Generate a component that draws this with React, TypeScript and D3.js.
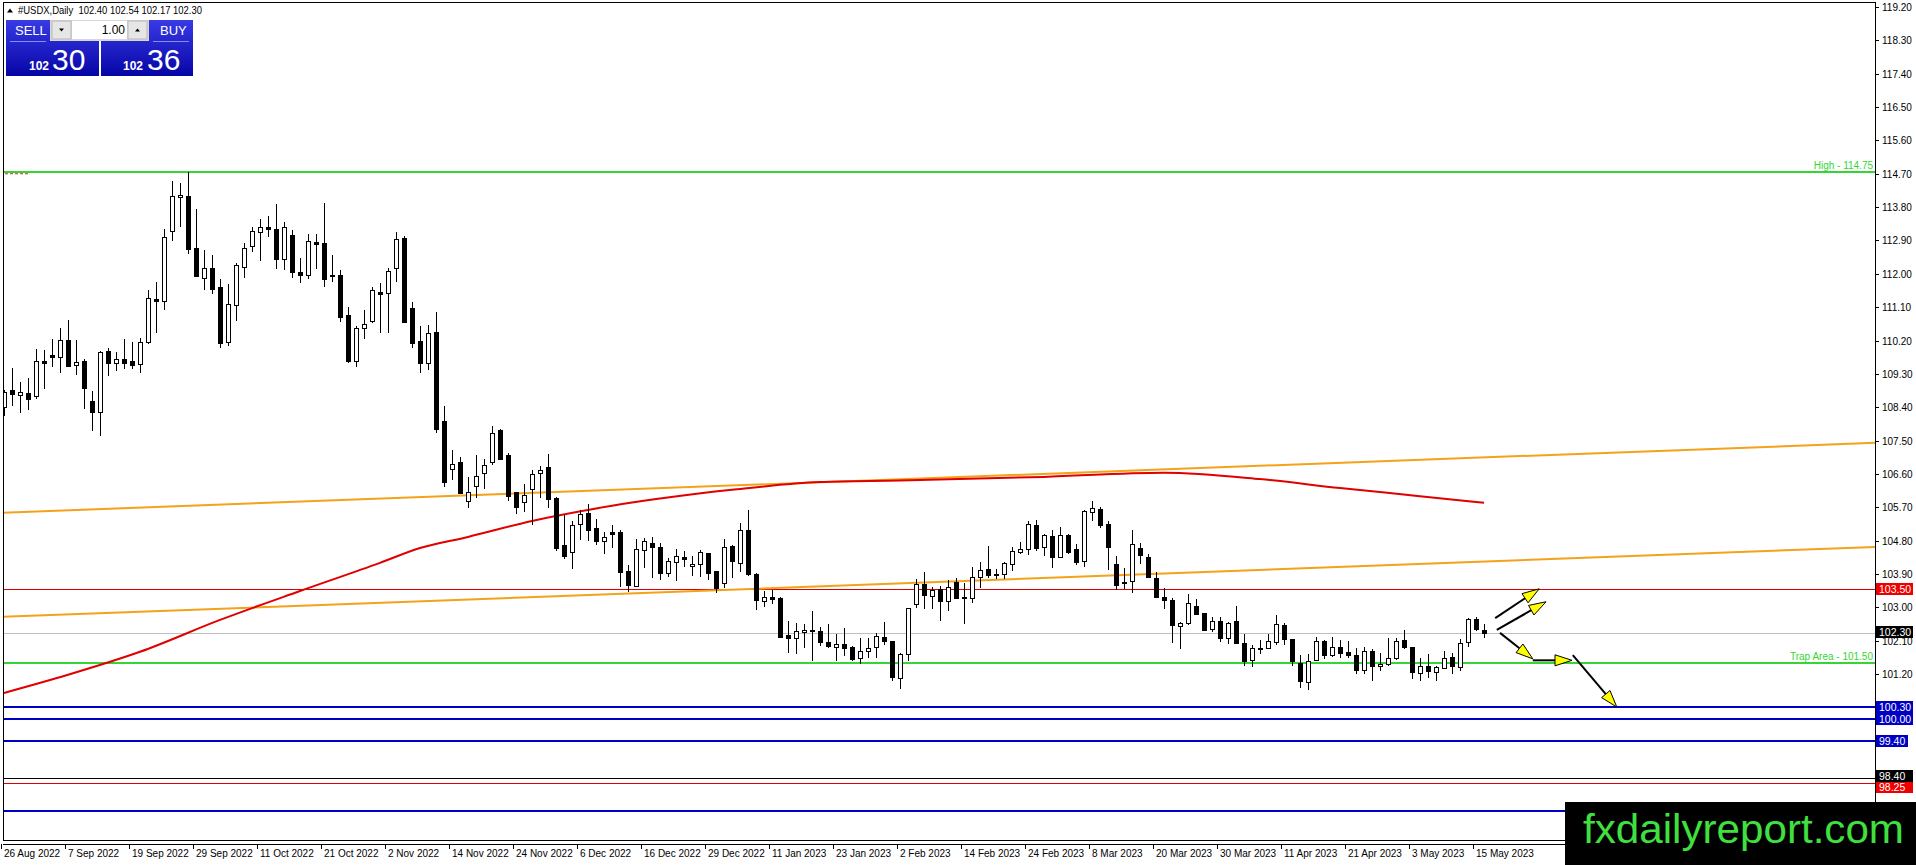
import * as d3 from "d3"

// daily candles, 26 Aug 2022 .. 16 May 2023
const opens = [
  108.40, 108.87, 108.74, 108.78, 108.69, 109.65, 109.81, 109.76, 110.21, 109.53,
  109.65, 108.57, 108.28, 109.92, 109.60, 109.69, 109.65, 109.56, 110.17, 111.32,
  111.26, 113.15, 114.06, 114.10, 112.69, 111.90, 112.16, 111.64, 110.17, 111.15,
  112.19, 112.74, 113.12, 113.26, 113.21, 112.41, 113.05, 112.05, 111.96, 112.86,
  112.83, 111.96, 111.96, 110.89, 109.65, 110.53, 110.74, 111.51, 111.47, 112.15,
  112.97, 111.09, 110.19, 109.58, 110.42, 108.03, 106.74, 106.92, 105.87, 106.27,
  106.63, 106.93, 107.79, 107.11, 106.10, 105.83, 106.20, 106.62, 106.80, 105.94,
  104.68, 104.48, 105.25, 105.54, 105.13, 104.78, 105.02, 105.02, 103.98, 103.58,
  104.55, 104.73, 104.64, 103.94, 104.21, 104.36, 104.12, 104.16, 104.46, 103.98,
  103.65, 104.66, 104.19, 105.10, 103.90, 103.17, 103.27, 103.24, 102.26, 102.17,
  102.33, 102.39, 102.36, 102.06, 101.92, 102.00, 101.94, 101.62, 101.81, 101.92,
  102.19, 102.09, 101.10, 101.73, 103.08, 103.63, 103.31, 103.49, 103.17, 103.69,
  103.27, 103.24, 103.81, 104.03, 103.89, 103.89, 104.17, 104.48, 104.57, 105.21,
  104.62, 104.93, 104.35, 104.95, 104.58, 104.26, 105.57, 105.65, 105.24, 104.16,
  103.68, 103.72, 104.59, 104.37, 103.78, 103.29, 103.20, 102.50, 102.57, 103.04,
  102.84, 102.41, 102.63, 102.16, 102.63, 102.03, 101.58, 101.90, 101.90, 102.07,
  102.52, 102.14, 101.51, 100.98, 101.57, 102.08, 101.72, 101.92, 101.79, 101.71,
  101.31, 101.83, 101.41, 101.46, 101.62, 102.11, 101.92, 101.24, 101.41, 101.25,
  101.36, 101.65, 101.40, 102.06, 102.68, 102.40,
]
const highs = [
  108.87, 109.45, 109.09, 109.18, 109.96, 109.94, 110.24, 110.54, 110.75, 110.21,
  109.70, 108.84, 109.91, 109.99, 109.89, 110.24, 110.16, 110.28, 111.56, 111.78,
  113.21, 114.50, 114.46, 114.75, 113.75, 112.64, 112.51, 111.86, 111.72, 112.28,
  112.84, 113.27, 113.47, 113.56, 113.89, 113.40, 113.18, 112.42, 113.07, 113.07,
  113.92, 112.51, 112.10, 111.10, 110.60, 111.02, 111.65, 111.76, 112.15, 113.14,
  113.02, 111.23, 110.59, 110.62, 110.96, 108.43, 107.25, 107.05, 106.51, 107.11,
  107.00, 107.89, 107.80, 107.17, 106.12, 106.33, 106.71, 106.81, 107.14, 105.97,
  105.49, 105.34, 105.63, 105.79, 105.38, 105.04, 105.22, 105.09, 104.14, 104.85,
  104.88, 104.91, 104.73, 104.32, 104.57, 104.53, 104.39, 104.55, 104.47, 103.99,
  104.84, 104.68, 105.27, 105.63, 103.93, 103.45, 103.47, 103.29, 102.64, 102.59,
  102.54, 102.91, 102.46, 102.54, 102.27, 102.43, 101.95, 102.18, 102.18, 102.30,
  102.60, 102.10, 101.76, 102.99, 103.76, 103.95, 103.54, 103.58, 103.74, 103.80,
  103.65, 104.08, 104.22, 104.66, 104.03, 104.23, 104.62, 104.75, 105.32, 105.36,
  104.98, 105.09, 105.18, 104.98, 104.70, 105.63, 105.87, 105.72, 105.33, 104.39,
  104.05, 105.09, 104.73, 104.45, 103.95, 103.51, 103.24, 102.60, 103.36, 103.22,
  102.85, 102.75, 102.75, 102.61, 103.04, 102.28, 101.99, 102.11, 102.28, 102.79,
  102.57, 102.15, 101.72, 101.73, 102.21, 102.11, 102.21, 102.11, 102.10, 101.90,
  101.94, 101.87, 101.78, 102.16, 102.16, 102.38, 101.93, 101.63, 101.75, 101.43,
  101.83, 101.78, 102.14, 102.72, 102.73, 102.54,
]
const lows = [
  108.15, 108.43, 108.25, 108.33, 108.61, 108.90, 109.49, 109.33, 109.49, 109.27,
  108.34, 107.77, 107.62, 109.24, 109.39, 109.44, 109.44, 109.33, 110.10, 110.40,
  111.03, 112.88, 113.27, 112.53, 111.94, 111.55, 111.45, 110.01, 110.06, 110.74,
  111.90, 112.58, 112.35, 113.00, 112.12, 112.10, 111.88, 111.74, 111.87, 112.14,
  111.65, 111.77, 110.71, 109.60, 109.49, 110.25, 110.68, 110.39, 110.41, 111.79,
  110.68, 110.01, 109.33, 109.40, 107.70, 106.26, 106.44, 106.08, 105.69, 105.94,
  106.20, 106.84, 106.98, 105.87, 105.52, 105.56, 105.22, 105.96, 105.67, 104.53,
  104.30, 104.04, 104.82, 104.80, 104.68, 104.43, 104.61, 103.56, 103.42, 103.54,
  104.05, 103.80, 103.74, 103.83, 103.72, 104.10, 103.85, 103.83, 103.74, 103.38,
  103.51, 103.80, 103.96, 103.85, 102.93, 103.00, 103.09, 102.17, 101.76, 101.74,
  101.91, 101.55, 101.97, 101.91, 101.55, 101.69, 101.56, 101.47, 101.64, 101.64,
  101.99, 101.01, 100.79, 101.54, 102.99, 102.96, 102.95, 102.62, 102.89, 103.22,
  102.55, 103.13, 103.51, 103.80, 103.76, 103.77, 103.99, 104.43, 104.40, 104.53,
  104.39, 104.07, 104.32, 104.44, 104.13, 104.10, 105.32, 105.13, 104.01, 103.46,
  103.49, 103.40, 104.17, 103.81, 103.26, 102.96, 102.05, 101.88, 102.52, 102.78,
  102.35, 102.33, 102.06, 102.02, 102.03, 101.43, 101.38, 101.74, 101.87, 101.98,
  101.99, 101.43, 100.83, 100.76, 101.54, 101.61, 101.65, 101.63, 101.62, 101.19,
  101.20, 101.01, 101.27, 101.42, 101.58, 101.87, 101.06, 101.00, 101.09, 101.02,
  101.33, 101.20, 101.27, 101.92, 102.35, 102.17,
]
const closes = [
  108.80, 108.75, 108.80, 108.63, 109.64, 109.58, 109.76, 110.21, 109.52, 109.62,
  108.93, 108.28, 109.88, 109.60, 109.69, 109.60, 109.55, 110.15, 111.34, 111.26,
  112.98, 114.09, 114.13, 112.68, 111.95, 112.16, 111.60, 110.14, 111.18, 112.23,
  112.71, 113.15, 113.25, 113.21, 112.41, 113.25, 112.06, 111.98, 112.88, 112.80,
  111.85, 111.95, 110.84, 109.65, 110.53, 110.65, 111.56, 111.46, 112.08, 112.93,
  110.71, 110.14, 109.59, 110.39, 107.81, 106.39, 106.86, 106.09, 106.12, 106.54,
  106.83, 107.70, 107.00, 106.00, 105.72, 106.03, 106.59, 106.71, 105.91, 104.61,
  104.39, 105.22, 105.52, 105.09, 104.80, 104.91, 104.97, 103.96, 103.60, 104.57,
  104.80, 104.64, 103.94, 104.25, 104.39, 104.30, 104.17, 104.48, 103.94, 103.51,
  104.64, 104.25, 105.10, 103.89, 103.20, 103.27, 103.22, 102.21, 102.17, 102.35,
  102.39, 102.35, 102.06, 101.97, 102.00, 101.90, 101.61, 101.82, 101.91, 102.23,
  102.08, 101.13, 101.73, 102.97, 103.63, 103.32, 103.47, 103.18, 103.56, 103.26,
  103.24, 103.83, 104.01, 103.86, 103.87, 104.19, 104.51, 104.58, 105.25, 104.61,
  104.96, 104.37, 104.94, 104.50, 104.23, 105.61, 105.67, 105.21, 104.62, 103.61,
  103.65, 104.70, 104.40, 103.83, 103.29, 103.20, 102.51, 102.57, 103.11, 102.81,
  102.39, 102.62, 102.16, 102.59, 102.05, 101.55, 101.90, 101.87, 102.09, 102.54,
  102.14, 101.55, 101.00, 101.56, 102.08, 101.72, 101.92, 101.76, 101.71, 101.31,
  101.83, 101.43, 101.46, 101.64, 102.08, 101.94, 101.25, 101.41, 101.27, 101.38,
  101.63, 101.41, 102.05, 102.68, 102.41, 102.30,
]

// red moving average, sampled at bar indices
const maBars = [0, 8, 17, 27, 37, 47, 52, 58, 66, 76, 91, 102, 112, 130, 145, 157, 167, 177, 185]
const maValues = [100.69, 101.18, 101.8, 102.66, 103.44, 104.2, 104.6, 104.9, 105.33, 105.74, 106.17, 106.38, 106.42, 106.52, 106.63, 106.46, 106.22, 106.0, 105.82]

// orange channel anchors: [bar, price]
const channelUpper: [number, number][] = [[-0.5, 105.55], [234, 107.44]]
const channelLower: [number, number][] = [[-0.5, 102.74], [234, 104.63]]

const greenLevels = [114.75, 101.5]
const blueLevels = [100.3, 100.0, 99.4, 97.5]
const redLevels = [103.5, 98.25]
const blackLevels = [98.4]
const bidLevel = 102.3

// projection arrows: [barFrom, priceFrom, barTo, priceTo]
const arrows = [
  [186.4, 102.71, 191.9, 103.5],
  [186.6, 102.39, 192.75, 103.15],
  [187, 102.31, 191.1, 101.61],
  [191.1, 101.57, 196, 101.57],
  [196.1, 101.71, 201.6, 100.31],
]

// ticks whose labels sit under a level box are left out (hidden in the original too)
const priceTicks = [
  119.2, 118.3, 117.4, 116.5, 115.6, 114.7, 113.8, 112.9, 112.0, 111.1, 110.2,
  109.3, 108.4, 107.5, 106.6, 105.7, 104.8, 103.9, 103.0, 102.1, 101.2,
]

const dateLabels = [
  "26 Aug 2022", "7 Sep 2022", "19 Sep 2022", "29 Sep 2022", "11 Oct 2022", "21 Oct 2022",
  "2 Nov 2022", "14 Nov 2022", "24 Nov 2022", "6 Dec 2022", "16 Dec 2022", "29 Dec 2022",
  "11 Jan 2023", "23 Jan 2023", "2 Feb 2023", "14 Feb 2023", "24 Feb 2023", "8 Mar 2023",
  "20 Mar 2023", "30 Mar 2023", "11 Apr 2023", "21 Apr 2023", "3 May 2023", "15 May 2023",
]
const dateStep = 8

const W = 1916
const H = 865
const left = 3
const top = 2
const axisX = 1875
const bottom = 840
const font = "'Liberation Sans', Arial, sans-serif"

const GREEN = "#33d633"
const BLUE = "#0000c4"
const RED = "#e00000"
const ORANGE = "#f3a21a"

const x = d3.scaleLinear().domain([0, 185]).range([4, 1484])
const y = d3.scaleLinear().domain([119.2, 98.4]).range([7, 777.8])

function Candles() {
  return (
    <g shapeRendering="crispEdges">
      {opens.map((o, i) => {
        const c = closes[i]
        const cx = Math.round(x(i))
        const yh = Math.round(y(highs[i]))
        const yl = Math.round(y(lows[i]))
        const bt = Math.round(y(Math.max(o, c)))
        const bb = Math.round(y(Math.min(o, c)))
        const bh = Math.max(1, bb - bt)
        return (
          <g key={i}>
            <rect x={cx} y={yh} width={1} height={Math.max(1, yl - yh)} fill="#000" />
            <rect x={cx - 2} y={bt} width={5} height={bh + 1} fill="#000" />
            {c > o && bh > 1 && <rect x={cx - 1} y={bt + 1} width={3} height={bh - 1} fill="#fff" />}
          </g>
        )
      })}
    </g>
  )
}

function Arrow({ a }: { a: number[] }) {
  const x0 = x(a[0]), y0 = y(a[1]), x1 = x(a[2]), y1 = y(a[3])
  const ang = Math.atan2(y1 - y0, x1 - x0)
  const len = 17
  const hw = 5.5
  const bx = x1 - len * Math.cos(ang)
  const by = y1 - len * Math.sin(ang)
  const nx = -Math.sin(ang) * hw
  const ny = Math.cos(ang) * hw
  const head = `M${x1},${y1}L${bx + nx},${by + ny}L${bx - nx},${by - ny}Z`
  return (
    <g>
      <line x1={x0} y1={y0} x2={bx} y2={by} stroke="#000" strokeWidth={2} />
      <path d={head} fill="#ffff00" stroke="#000" strokeWidth={1} strokeLinejoin="miter" />
    </g>
  )
}

function PriceBox({ price, fill, w = 37, dy = 0 }: { price: number; fill: string; w?: number; dy?: number }) {
  const yy = Math.round(y(price)) + dy
  return (
    <g>
      <rect x={axisX + 1} y={yy - 6} width={w} height={12} fill={fill} />
      <text x={axisX + 4} y={yy + 4} fontSize={10.5} fill="#fff" fontFamily={font}>
        {price.toFixed(2)}
      </text>
    </g>
  )
}

function TradePanel() {
  return (
    <g fontFamily={font}>
      <defs>
        <linearGradient id="blu" x1="0" y1="0" x2="0" y2="1">
          <stop offset="0" stopColor="#3a3ae6" />
          <stop offset="1" stopColor="#0505a6" />
        </linearGradient>
      </defs>
      {/* sell */}
      <path d="M6,20H50V41H99V76H6Z" fill="url(#blu)" />
      <line x1={10} x2={46} y1={41.5} y2={41.5} stroke="#8c8cf0" />
      <text x={15} y={35} fontSize={13} fill="#fff">SELL</text>
      <text x={29} y={70} fontSize={12} fontWeight="bold" fill="#fff">102</text>
      <text x={52} y={70} fontSize={30} fill="#fff">30</text>
      {/* buy */}
      <path d="M149,20H193V76H101V41H149Z" fill="url(#blu)" />
      <line x1={153} x2={189} y1={41.5} y2={41.5} stroke="#8c8cf0" />
      <text x={160} y={35} fontSize={13} fill="#fff">BUY</text>
      <text x={123} y={70} fontSize={12} fontWeight="bold" fill="#fff">102</text>
      <text x={147} y={70} fontSize={30} fill="#fff">36</text>
      {/* lot spinner */}
      <rect x={50} y={20} width={99} height={21} fill="#d8d8d8" />
      <rect x={52} y={21} width={19} height={18} fill="#e6e6e6" stroke="#b8b8b8" />
      <rect x={72} y={21} width={55} height={18} fill="#fff" />
      <rect x={128} y={21} width={19} height={18} fill="#e6e6e6" stroke="#b8b8b8" />
      <path d="M59,28.5h5l-2.5,3z" fill="#000" />
      <path d="M135,31.5h5l-2.5,-3z" fill="#000" />
      <text x={125} y={34} fontSize={12} textAnchor="end" fill="#000">1.00</text>
    </g>
  )
}

export default function App() {
  const line = d3.line<[number, number]>().x((d) => x(d[0])).y((d) => y(d[1]))
  const maLine = d3
    .line<number>()
    .x((_, i) => x(maBars[i]))
    .y((d) => y(d))
    .curve(d3.curveMonotoneX)

  const hline = (p: number, color: string, sw: number, key: string) => {
    const yy = Math.round(y(p)) + (sw % 2 ? 0.5 : 0)
    return <line key={key} x1={left} x2={axisX} y1={yy} y2={yy} stroke={color} strokeWidth={sw} />
  }

  return (
    <svg width={W} height={H} style={{ position: "absolute", left: 0, top: 0, background: "#fff" }}>
      <defs>
        <clipPath id="plot">
          <rect x={left} y={top} width={axisX - left} height={bottom - top} />
        </clipPath>
      </defs>
      <rect width={W} height={H} fill="#fff" />

      <g clipPath="url(#plot)">
        {hline(bidLevel, "#c0c0c0", 1, "bid")}
        {redLevels.map((p, i) => hline(p, RED, 1, "r" + i))}
        {blackLevels.map((p, i) => hline(p, "#000", 1, "k" + i))}
        {greenLevels.map((p, i) => hline(p, GREEN, 2, "g" + i))}
        {blueLevels.map((p, i) => hline(p, BLUE, 2, "b" + i))}
        <line x1={x(-0.5)} x2={x(3)} y1={y(114.7)} y2={y(114.7)} stroke="#c03030" strokeDasharray="3,2" />
        <path d={line(channelUpper) || ""} fill="none" stroke={ORANGE} strokeWidth={2} />
        <path d={line(channelLower) || ""} fill="none" stroke={ORANGE} strokeWidth={2} />
        <path d={maLine(maValues) || ""} fill="none" stroke={RED} strokeWidth={2} />
        <Candles />
        {arrows.map((a, i) => <Arrow key={i} a={a} />)}
      </g>

      <g fontFamily={font} fontSize={10} fill={GREEN}>
        <text x={axisX - 2} y={Math.round(y(greenLevels[0])) - 3} textAnchor="end">High - 114.75</text>
        <text x={axisX - 2} y={Math.round(y(greenLevels[1])) - 3} textAnchor="end">Trap Area - 101.50</text>
      </g>

      {/* frame */}
      <g shapeRendering="crispEdges" stroke="#000" fill="none">
        <line x1={left + 0.5} x2={left + 0.5} y1={top} y2={bottom} />
        <line x1={left} x2={axisX} y1={top + 0.5} y2={top + 0.5} />
        <line x1={axisX + 0.5} x2={axisX + 0.5} y1={top} y2={bottom + 4} />
        <line x1={left} x2={axisX} y1={bottom + 0.5} y2={bottom + 0.5} />
        <line x1={left} x2={W} y1={bottom + 4.5} y2={bottom + 4.5} />
      </g>

      {/* price axis */}
      <g fontFamily={font} fontSize={10} fill="#000">
        {priceTicks.map((t) => {
          const yy = Math.round(y(t))
          return (
            <g key={t}>
              <line x1={axisX} x2={axisX + 4} y1={yy + 0.5} y2={yy + 0.5} stroke="#000" />
              <text x={axisX + 7} y={yy + 4}>{t.toFixed(2)}</text>
            </g>
          )
        })}
      </g>
      <PriceBox price={103.5} fill="#ee0000" />
      <PriceBox price={102.3} fill="#000" dy={-1} />
      <PriceBox price={100.3} fill={BLUE} />
      <PriceBox price={100.0} fill={BLUE} />
      <PriceBox price={99.4} fill={BLUE} w={32} />
      <PriceBox price={98.25} fill="#ee0000" dy={4} />
      <PriceBox price={98.4} fill="#000" dy={-2} />

      {/* date axis */}
      <g fontFamily={font} fontSize={10} fill="#000">
        {dateLabels.map((d, i) => {
          const bx = Math.round(x(i * dateStep))
          return (
            <g key={d}>
              <line x1={bx - 2.5} x2={bx - 2.5} y1={bottom + 4} y2={bottom + 9} stroke="#000" />
              <text x={bx} y={bottom + 17}>{d}</text>
            </g>
          )
        })}
      </g>

      {/* header */}
      <path d="M7,12.5h6l-3,-4z" fill="#000" />
      <text x={18} y={14} fontFamily={font} fontSize={10.5} fill="#000" textLength={184} lengthAdjust="spacingAndGlyphs" style={{ whiteSpace: "pre" }}>
        {"#USDX,Daily  102.40 102.54 102.17 102.30"}
      </text>
      <TradePanel />

      {/* watermark */}
      <rect x={1565} y={802} width={W - 1565} height={H - 802} fill="#000" />
      <text x={1583} y={843} fontFamily={font} fontSize={41} fill="#3fe03f" textLength={321} lengthAdjust="spacingAndGlyphs">
        fxdailyreport.com
      </text>
    </svg>
  )
}
